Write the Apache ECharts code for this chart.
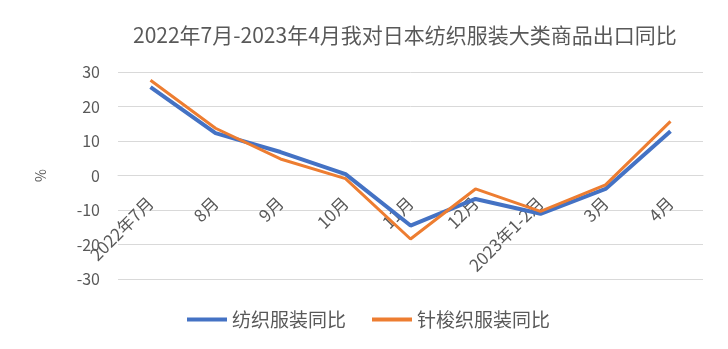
<!DOCTYPE html>
<html>
<head>
<meta charset="utf-8">
<script src="https://cdn.jsdelivr.net/npm/echarts@6/dist/echarts.min.js"></script>
<style>
html,body{margin:0;padding:0;background:#fff;}
#c{width:728px;height:349px;}
</style>
</head>
<body>
<div id="c"></div>
<script>
const titleText = '2022年7月-2023年4月我对日本纺织服装大类商品出口同比';
const categories = ['2022年7月','8月','9月','10月','11月','12月','2023年1-2月','3月','4月'];
const seriesNames = ['纺织服装同比','针梭织服装同比'];
const textileYoY = [25.6, 12.3, 6.8, 0.4, -14.5, -6.8, -11.1, -3.9, 12.8];
const knitWovenYoY = [27.6, 13.7, 4.8, -0.9, -18.4, -3.9, -10.4, -2.7, 15.7];
const yTicks = {min: -30, max: 30, interval: 10};
const yName = '%';

const FONT = '"Noto Sans CJK SC", "Noto Sans", sans-serif';
const chart = echarts.init(document.getElementById('c'), null, {renderer: 'canvas'});
chart.setOption({
  animation: false,
  backgroundColor: '#ffffff',
  title: {
    text: titleText,
    left: 128,
    top: 20,
    textStyle: {fontFamily: FONT, fontSize: 21, fontWeight: 'normal', color: '#595959'}
  },
  legend: {
    bottom: 15,
    left: 182,
    itemWidth: 40,
    itemHeight: 4,
    itemGap: 26,
    textStyle: {fontFamily: FONT, fontSize: 19, color: '#595959'},
    data: [{name: seriesNames[0], icon: 'rect'}, {name: seriesNames[1], icon: 'rect'}]
  },
  grid: {left: 118, right: 25, top: 72, bottom: 70, containLabel: false, outerBoundsMode: 'none'},
  xAxis: {
    type: 'category',
    data: categories,
    boundaryGap: true,
    axisLine: {show: true, lineStyle: {color: '#d9d9d9', width: 1}},
    axisTick: {show: false},
    axisLabel: {rotate: 45, margin: -79, interval: 0, hideOverlap: false, color: '#595959', fontFamily: FONT, fontSize: 17}
  },
  yAxis: {
    type: 'value',
    min: yTicks.min, max: yTicks.max, interval: yTicks.interval,
    name: yName,
    nameLocation: 'middle',
    nameGap: 70,
    nameTextStyle: {fontFamily: FONT, fontSize: 14, color: '#595959'},
    axisLine: {show: false},
    axisTick: {show: false},
    splitLine: {lineStyle: {color: '#d9d9d9', width: 1}},
    axisLabel: {margin: 18, color: '#595959', fontFamily: FONT, fontSize: 16}
  },
  series: [
    {name: seriesNames[0], type: 'line', data: textileYoY, symbol: 'none', color: '#4472C4',
     lineStyle: {width: 4, color: '#4472C4'}},
    {name: seriesNames[1], type: 'line', data: knitWovenYoY, symbol: 'none', color: '#ED7D31',
     lineStyle: {width: 3, color: '#ED7D31'}}
  ]
});
</script>
</body>
</html>
